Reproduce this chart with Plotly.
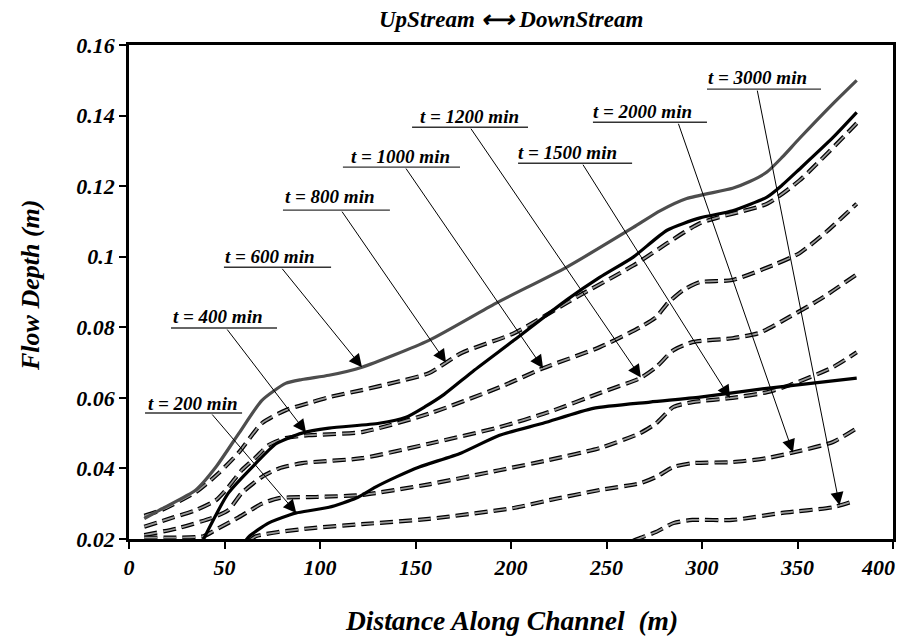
import numpy as np
import plotly.graph_objects as go

# ---------------- data ----------------
# solid lines
x_t200 = [61, 63, 73, 84, 87.6, 104.7, 119, 129, 140, 152, 174, 194, 216.8, 243, 272.8, 299, 334, 381]
y_t200 = [0.0195, 0.0208, 0.0245, 0.0268, 0.0274, 0.029, 0.0316, 0.0347, 0.0376, 0.0404, 0.0444, 0.0494,
          0.0528, 0.057, 0.0588, 0.0602, 0.0627, 0.0656]

x_t400 = [38.7, 40, 52, 66.5, 77, 90.6, 104.7, 131, 145, 155, 165, 180, 201.5, 229, 246.6, 264, 281.7, 299,
          316, 334, 342, 351, 368.6, 381]
y_t400 = [0.0195, 0.021, 0.033, 0.0415, 0.047, 0.050, 0.0514, 0.0528, 0.0545, 0.0575, 0.061, 0.0675, 0.0763,
          0.0877, 0.0942, 0.0999, 0.1075, 0.111, 0.113, 0.1169, 0.1203, 0.1248, 0.1338, 0.1409]

x_t600 = [8, 17, 35, 45.5, 57.6, 69.6, 82, 90.6, 104.7, 122, 157, 192, 229, 264, 278, 292, 316, 325, 334,
          342, 351, 368.6, 381]
y_t600 = [0.0258, 0.0285, 0.0339, 0.0404, 0.050, 0.0593, 0.0641, 0.0652, 0.0664, 0.0687, 0.0763, 0.0868,
          0.097, 0.1083, 0.113, 0.1165, 0.1194, 0.1213, 0.124, 0.1282, 0.1335, 0.1434, 0.150]

# dashed lines
x_t800 = [8, 17, 35, 47, 57.6, 69.6, 82, 94, 104.7, 122, 140, 157, 174, 201.5, 234.5, 264, 299, 334, 351, 381]
y_t800 = [0.0266, 0.0282, 0.0333, 0.0387, 0.0446, 0.0528, 0.0565, 0.0585, 0.0602, 0.0622, 0.0645, 0.067,
          0.0727, 0.0783, 0.0886, 0.0975, 0.1095, 0.115, 0.1216, 0.1378]

x_t1000 = [8, 22.5, 35, 45.5, 52, 59, 66.5, 73, 82, 94, 122, 157, 194, 216.8, 246.6, 267.6, 276, 282, 290,
           299, 316, 339, 351, 365, 381]
y_t1000 = [0.0235, 0.026, 0.0282, 0.031, 0.0347, 0.0395, 0.0432, 0.0466, 0.0486, 0.0494, 0.0503, 0.0555,
           0.063, 0.0684, 0.0744, 0.080, 0.0829, 0.0868, 0.0905, 0.0928, 0.0934, 0.098, 0.101, 0.107, 0.115]

x_t1200 = [8, 26, 43.5, 52, 59, 69.6, 78.5, 90.6, 122, 157, 194, 220, 246.6, 267.6, 276, 285, 295, 316,
           330, 346, 362, 381]
y_t1200 = [0.0211, 0.0231, 0.026, 0.0282, 0.033, 0.0376, 0.040, 0.0415, 0.0429, 0.047, 0.0517, 0.056,
           0.0614, 0.0656, 0.0687, 0.0735, 0.0758, 0.0769, 0.0784, 0.083, 0.088, 0.095]

x_t1500 = [8, 25, 39, 47, 57.6, 69.6, 78.5, 98, 122, 157, 194, 220, 246.6, 267.6, 276, 285, 295, 316, 334,
           346, 368.6, 381]
y_t1500 = [0.0204, 0.0204, 0.0208, 0.0231, 0.0262, 0.030, 0.0316, 0.0319, 0.0325, 0.0355, 0.0395, 0.0424,
           0.0458, 0.050, 0.0528, 0.0574, 0.0588, 0.060, 0.0616, 0.0636, 0.0687, 0.0729]

x_t2000 = [63, 66.5, 78.5, 96, 122, 157, 201.5, 220, 246.6, 267.6, 276, 285, 295, 316, 334, 346, 368.6, 381]
y_t2000 = [0.0195, 0.0208, 0.022, 0.0231, 0.0242, 0.0257, 0.0288, 0.031, 0.0339, 0.0358, 0.0376, 0.0404,
           0.0415, 0.0418, 0.0429, 0.0443, 0.0475, 0.0514]

x_t3000 = [264, 267.6, 276, 285, 295, 316, 342, 368.6, 378]
y_t3000 = [0.0195, 0.0203, 0.022, 0.0245, 0.0254, 0.0254, 0.0274, 0.029, 0.0305]

x_ticks = [0, 50, 100, 150, 200, 250, 300, 350, 400]
x_tick_labels = ["0", "50", "100", "150", "200", "250", "300", "350", "400"]
y_ticks = [0.02, 0.04, 0.06, 0.08, 0.1, 0.12, 0.14, 0.16]
y_tick_labels = ["0.02", "0.04", "0.06", "0.08", "0.1", "0.12", "0.14", "0.16"]

solid_series = [
    ("t = 200 min", x_t200, y_t200, "black"),
    ("t = 400 min", x_t400, y_t400, "black"),
    ("t = 600 min", x_t600, y_t600, "#4d4d4d"),
]
dashed_series = [
    ("t = 800 min", x_t800, y_t800),
    ("t = 1000 min", x_t1000, y_t1000),
    ("t = 1200 min", x_t1200, y_t1200),
    ("t = 1500 min", x_t1500, y_t1500),
    ("t = 2000 min", x_t2000, y_t2000),
    ("t = 3000 min", x_t3000, y_t3000),
]

# label placement: (label, text x, text y, underline x0, underline x1, underline y, tail x, head x)
label_pos = [
    ("t = 200 min", 33.0, 0.0584, 8.4, 59.2, 0.0557, 42.9, 87.6),
    ("t = 400 min", 46.1, 0.0831, 22.0, 77.5, 0.0798, 50.8, 92.7),
    ("t = 600 min", 73.8, 0.1001, 49.7, 105.8, 0.0970, 79.6, 122.0),
    ("t = 800 min", 105.2, 0.1171, 80.6, 136.6, 0.1132, 111.0, 166.0),
    ("t = 1000 min", 142.4, 0.1284, 112.0, 173.3, 0.1254, 144.5, 216.8),
    ("t = 1200 min", 178.5, 0.1397, 148.2, 208.9, 0.1367, 178.5, 268.0),
    ("t = 1500 min", 229.8, 0.1295, 203.7, 263.4, 0.1265, 237.2, 314.7),
    ("t = 2000 min", 269.1, 0.1412, 242.9, 302.6, 0.1381, 287.4, 347.6),
    ("t = 3000 min", 329.3, 0.1508, 302.6, 362.3, 0.1475, 328.8, 372.0),
]

FONT = "Liberation Serif, Times New Roman, serif"
DASH = "13px,6px"
SMOOTH = 0.6

fig = go.Figure()

for name, xs, ys in dashed_series:
    fig.add_trace(go.Scatter(x=xs, y=ys, mode="lines", name=name, showlegend=False,
                             line=dict(color="black", width=4.2, dash=DASH, shape="spline", smoothing=SMOOTH),
                             hoverinfo="skip"))
    fig.add_trace(go.Scatter(x=xs, y=ys, mode="lines", name=name, showlegend=False,
                             line=dict(color="#9a9a9a", width=1.7, dash=DASH, shape="spline", smoothing=SMOOTH)))

for name, xs, ys, col in solid_series:
    fig.add_trace(go.Scatter(x=xs, y=ys, mode="lines", name=name, showlegend=False,
                             line=dict(color=col, width=3.2, shape="spline", smoothing=SMOOTH)))

all_series = {n: (xs, ys) for n, xs, ys, _ in solid_series}
all_series.update({n: (xs, ys) for n, xs, ys in dashed_series})

annotations = []
shapes = []
for label, tx, ty, ux0, ux1, uy, tail_x, head_x in label_pos:
    xs, ys = all_series[label]
    head_y = float(np.interp(head_x, xs, ys))
    annotations.append(dict(x=tx, y=ty, xref="x", yref="y", text=label, showarrow=False,
                            font=dict(family=FONT, size=19, color="black", weight="bold", style="italic"),
                            xanchor="center", yanchor="middle"))
    shapes.append(dict(type="line", xref="x", yref="y", x0=ux0, x1=ux1, y0=uy, y1=uy,
                       line=dict(color="#333", width=1.4)))
    annotations.append(dict(x=head_x, y=head_y, xref="x", yref="y", ax=tail_x, ay=uy,
                            axref="x", ayref="y", text="", showarrow=True,
                            arrowhead=2, arrowsize=2.6, arrowwidth=1, arrowcolor="black", standoff=0))

tickfont = dict(family=FONT, size=22, color="black", weight="bold", style="italic")

# last x tick label sits just inside the figure edge (as in the reference)
annotations.append(dict(x=x_ticks[-1], y=-(567 - 539) / 494, xref="x", yref="paper",
                        text=x_tick_labels[-1], showarrow=False, font=tickfont,
                        xanchor="right", yanchor="middle", xshift=4))

annotations.append(dict(x=0.5, y=(539 - 19) / 494, xref="paper", yref="paper",
                        text="UpStream \u27f7 DownStream", showarrow=False,
                        font=dict(family=FONT, size=23, color="black", weight="bold", style="italic"),
                        xanchor="center", yanchor="middle"))
annotations.append(dict(x=0.5, y=-(620 - 539) / 494, xref="paper", yref="paper",
                        text="Distance Along Channel  (m)", showarrow=False,
                        font=dict(family=FONT, size=27.5, color="black", weight="bold", style="italic"),
                        xanchor="center", yanchor="middle"))
annotations.append(dict(x=-(129 - 30) / 764, y=(539 - 285) / 494, xref="paper", yref="paper",
                        text="Flow Depth (m)", showarrow=False, textangle=-90,
                        font=dict(family=FONT, size=26, color="black", weight="bold", style="italic"),
                        xanchor="center", yanchor="middle"))

fig.update_layout(
    width=909, height=639,
    margin=dict(l=129, r=16, t=45, b=100, autoexpand=False),
    paper_bgcolor="white", plot_bgcolor="white",
    showlegend=False,
    annotations=annotations,
    shapes=shapes,
    xaxis=dict(range=[0, 400], tickvals=x_ticks, ticktext=x_tick_labels[:-1] + [""], ticks="outside",
               ticklen=7, tickwidth=2.2, tickcolor="black", showline=True, linecolor="black", linewidth=2.6,
               mirror=True, showgrid=False, zeroline=False, tickfont=tickfont, automargin=False),
    yaxis=dict(range=[0.02, 0.16], tickvals=y_ticks, ticktext=y_tick_labels, ticks="outside", ticklen=7,
               tickwidth=2.2, tickcolor="black", showline=True, linecolor="black", linewidth=2.6,
               mirror=True, showgrid=False, zeroline=False, tickfont=tickfont, automargin=False),
)

fig.write_html("out.html")
